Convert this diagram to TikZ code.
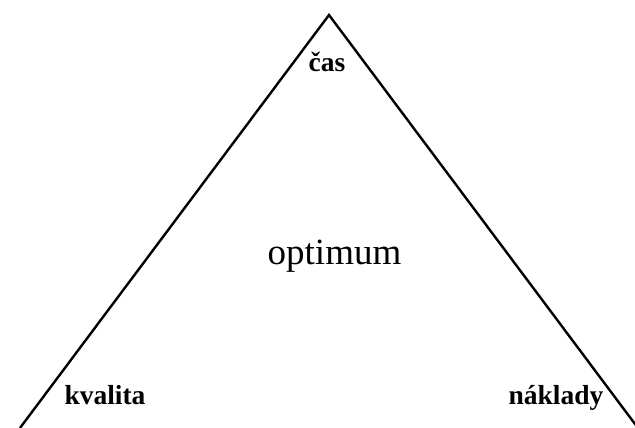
\documentclass[tikz,border=0pt]{standalone}
\usepackage{fontspec}
\setmainfont{Liberation Serif}
\begin{document}
\begin{tikzpicture}[x=1pt,y=1pt,
  corner/.style={font=\fontsize{27.5}{30}\selectfont\bfseries, anchor=base, inner sep=0pt},
  center/.style={font=\fontsize{37}{40}\selectfont, anchor=base, inner sep=0pt}]
\useasboundingbox (0,0) rectangle (635,428);
\begin{scope}
\clip (0,0) rectangle (635,428);
\coordinate (apex) at (329,413);
\coordinate (left) at (20,0);
\coordinate (right) at (638,0);
\draw[line width=2.4pt, line join=miter] (left) -- (apex) -- (right);
\end{scope}
\node[corner] (cas) at (327,356) {čas};
\node[corner] (kvalita) at (105,23) {kvalita};
\node[corner] (naklady) at (556,23) {náklady};
\node[center] (optimum) at (334.5,163) {optimum};
\end{tikzpicture}
\end{document}
